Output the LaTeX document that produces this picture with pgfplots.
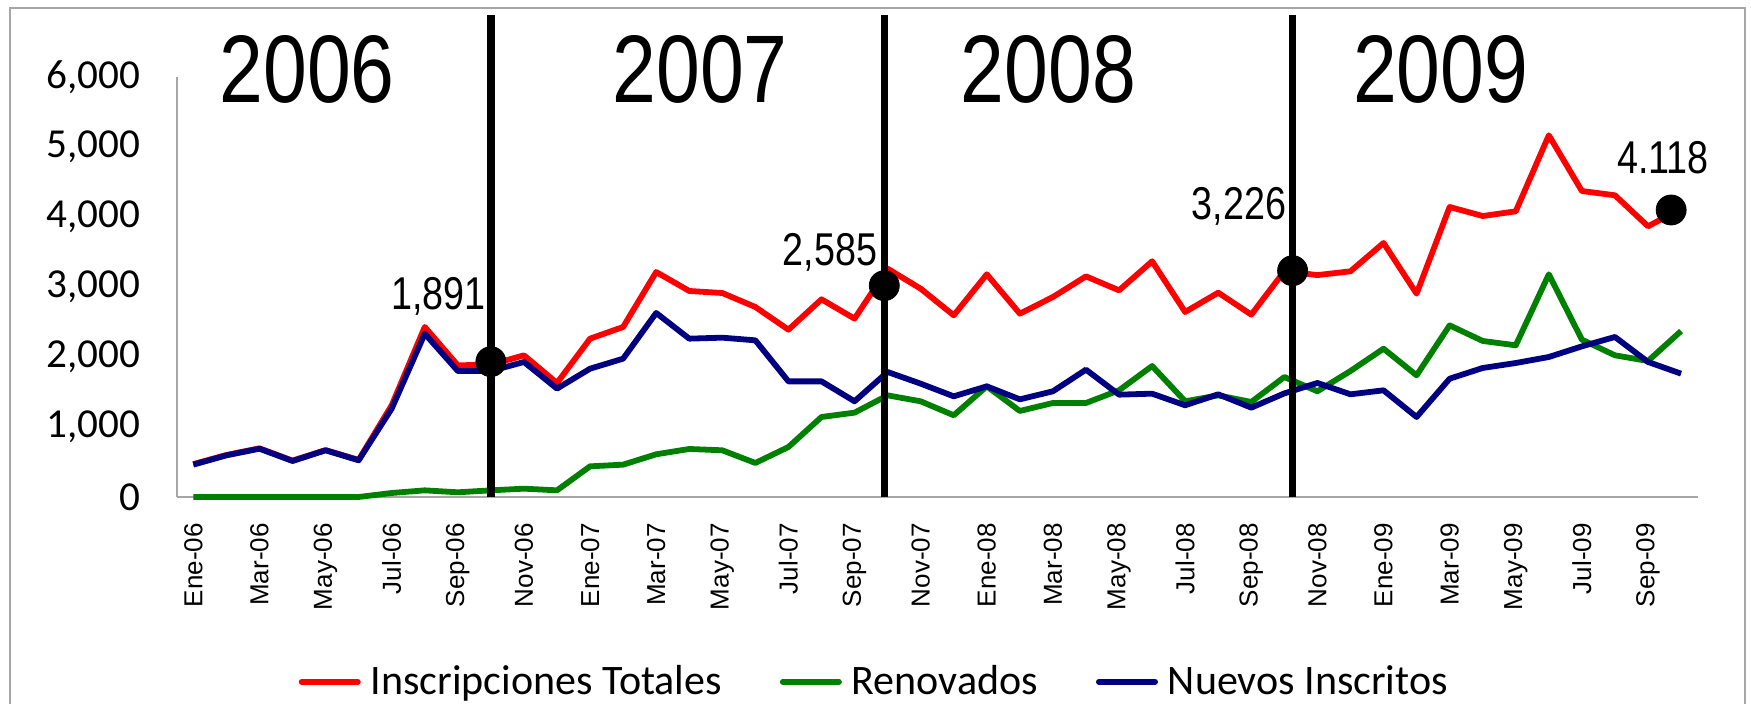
\documentclass[border=0pt]{standalone}
\usepackage{fontspec}
\setmainfont{Carlito}
\newfontfamily\arialfont{Liberation Sans}
\newfontfamily\narrowfont[FakeStretch=0.82]{Liberation Sans}
\usepackage{pgfplots}
\pgfplotsset{compat=1.18}
\definecolor{cred}{RGB}{255,0,0}
\definecolor{cgreen}{RGB}{0,128,0}
\definecolor{cblue}{RGB}{0,0,128}
\begin{document}
\begin{tikzpicture}
\useasboundingbox (-88.4pt,-103.5pt) rectangle (787.1pt,248.5pt);
\draw[black!35, line width=1pt] (-83.4pt,-120pt) -- (-83.4pt,244.5pt) -- (784.1pt,244.5pt) -- (784.1pt,-120pt);
\begin{axis}[
  at={(0pt,0pt)}, anchor=south west,
  scale only axis, width=760.4pt, height=210pt,
  xmin=-0.5, xmax=45.5, ymin=0, ymax=6000,
  axis x line*=bottom, axis y line*=left,
  axis line style={black!35, line width=0.8pt, -},
  major tick length=0pt,
  xtick={0,2,...,44},
  xticklabels={Ene-06,Mar-06,May-06,Jul-06,Sep-06,Nov-06,Ene-07,Mar-07,May-07,Jul-07,Sep-07,Nov-07,Ene-08,Mar-08,May-08,Jul-08,Sep-08,Nov-08,Ene-09,Mar-09,May-09,Jul-09,Sep-09},
  xticklabel style={rotate=90, anchor=east, inner sep=0pt, font=\arialfont\fontsize{13}{15}\selectfont},
  xticklabel shift=13pt,
  ytick={0,1000,...,6000},
  scaled y ticks=false,
  /pgf/number format/1000 sep={,},
  /pgf/number format/assume math mode=true,
  yticklabel style={inner sep=0pt, font=\fontsize{20.6}{24}\selectfont},
  yticklabel shift=18pt,
  clip=false,
  legend columns=3,
  legend image code/.code={\draw[#1, line cap=round, line width=3pt] (0pt,0pt) -- (28pt,0pt);},
  legend style={at={(0.458,-0.44)}, anchor=center, draw=none, fill=none,
    font=\fontsize{21}{24}\selectfont, nodes={inner sep=0pt},
    /tikz/every odd column/.append style={column sep=5pt},
    /tikz/every even column/.append style={column sep=29pt}},
  every axis plot/.append style={line join=round},
]
\addplot[cred, line width=2.9pt] coordinates {
(0,470) (1,600) (2,695) (3,520) (4,670) (5,530) (6,1310) (7,2429) (8,1881) (9,1891)
(10,2024) (11,1629) (12,2262) (13,2429) (14,3214) (15,2943) (16,2914) (17,2714) (18,2390) (19,2824)
(20,2548) (21,3262) (22,2976) (23,2595) (24,3181) (25,2619) (26,2857) (27,3152) (28,2952) (29,3367)
(30,2643) (31,2919) (32,2605) (33,3226) (34,3170) (35,3224) (36,3629) (37,2905) (38,4143) (39,4014)
(40,4081) (41,5167) (42,4371) (43,4310) (44,3867) (45,4118)};
\addlegendentry{Inscripciones Totales}
\addplot[cgreen, line width=2.9pt] coordinates {
(0,0) (1,0) (2,0) (3,0) (4,0) (5,0) (6,57) (7,95) (8,67) (9,95)
(10,119) (11,95) (12,438) (13,462) (14,610) (15,686) (16,667) (17,486) (18,714) (19,1143)
(20,1205) (21,1452) (22,1367) (23,1167) (24,1581) (25,1229) (26,1343) (27,1343) (28,1524) (29,1871)
(30,1367) (31,1452) (32,1357) (33,1714) (34,1510) (35,1800) (36,2119) (37,1738) (38,2452) (39,2229)
(40,2167) (41,3181) (42,2248) (43,2024) (44,1943) (45,2371)};
\addlegendentry{Renovados}
\addplot[cblue, line width=2.9pt] coordinates {
(0,462) (1,595) (2,690) (3,514) (4,667) (5,524) (6,1262) (7,2333) (8,1800) (9,1800)
(10,1929) (11,1548) (12,1833) (13,1976) (14,2629) (15,2262) (16,2276) (17,2238) (18,1652) (19,1652)
(20,1367) (21,1786) (22,1619) (23,1438) (24,1581) (25,1395) (26,1510) (27,1819) (28,1462) (29,1476)
(30,1310) (31,1467) (32,1276) (33,1480) (34,1629) (35,1467) (36,1524) (37,1143) (38,1690) (39,1843)
(40,1914) (41,2000) (42,2152) (43,2286) (44,1929) (45,1762)};
\addlegendentry{Nuevos Inscritos}
\addplot[black, line width=3.8pt, forget plot] coordinates {(9,0) (9,6886)};
\addplot[black, line width=3.8pt, forget plot] coordinates {(20.9,0) (20.9,6886)};
\addplot[black, line width=3.8pt, forget plot] coordinates {(33.25,0) (33.25,6886)};
\addplot[only marks, mark=*, mark size=7.5pt, black, forget plot] coordinates {(9,1933) (20.9,3019) (33.25,3233) (44.7,4100)};
\node[anchor=base, font=\narrowfont\fontsize{48}{56}\selectfont] at (axis cs:3.44,5632) {2006};
\node[anchor=base, font=\narrowfont\fontsize{48}{56}\selectfont] at (axis cs:15.33,5632) {2007};
\node[anchor=base, font=\narrowfont\fontsize{48}{56}\selectfont] at (axis cs:25.86,5632) {2008};
\node[anchor=base, font=\narrowfont\fontsize{48}{56}\selectfont] at (axis cs:37.73,5632) {2009};
\node[anchor=base, font=\narrowfont\fontsize{23}{27}\selectfont] at (axis cs:7.41,2674) {1,891};
\node[anchor=base, font=\narrowfont\fontsize{23}{27}\selectfont] at (axis cs:19.26,3307) {2,585};
\node[anchor=base, font=\narrowfont\fontsize{23}{27}\selectfont] at (axis cs:31.63,3959) {3,226};
\node[anchor=base, font=\narrowfont\fontsize{23}{27}\selectfont] at (axis cs:44.45,4617) {4.118};
\end{axis}
\end{tikzpicture}
\end{document}
